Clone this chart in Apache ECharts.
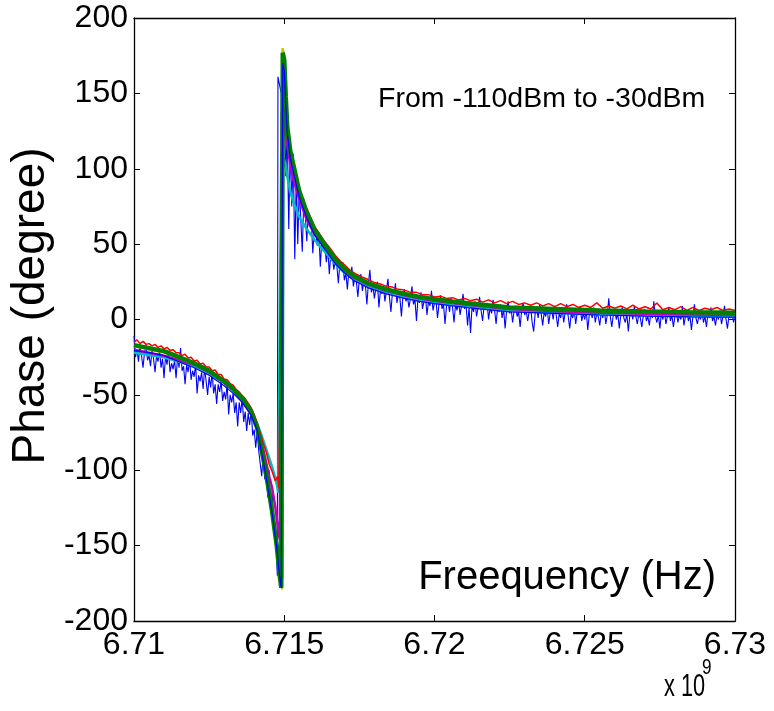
<!DOCTYPE html>
<html>
<head>
<meta charset="utf-8">
<script src="https://cdn.jsdelivr.net/npm/echarts@6/dist/echarts.min.js"></script>
<style>html,body{margin:0;padding:0;background:#fff}#c{width:774px;height:711px}</style>
</head>
<body>
<div id="c"></div>
<script>
// Tick values (x in units of 1e9 Hz)
const xTicks = [6.71, 6.715, 6.72, 6.725, 6.73];
const yTicks = [-200, -150, -100, -50, 0, 50, 100, 150, 200];

// [frequency (x1e9 Hz), phase (degree)]
const blue110 = [[6.71000,-11],[6.71005,-25],[6.71010,-20],[6.71015,-28],[6.71020,-17],[6.71025,-24],[6.71030,-32],[6.71035,-22],[6.71040,-17],[6.71045,-27],[6.71050,-24],[6.71055,-31],[6.71060,-20],[6.71065,-26],[6.71070,-35],[6.71075,-24],[6.71080,-28],[6.71085,-20],[6.71090,-32],[6.71095,-26],[6.71100,-39],[6.71105,-24],[6.71110,-30],[6.71115,-21],[6.71120,-35],[6.71125,-29],[6.71130,-33],[6.71135,-27],[6.71140,-39],[6.71145,-25],[6.71150,-32],[6.71155,-19],[6.71160,-34],[6.71165,-31],[6.71170,-43],[6.71175,-30],[6.71180,-35],[6.71185,-26],[6.71190,-40],[6.71195,-34],[6.71200,-38],[6.71205,-30],[6.71210,-49],[6.71215,-37],[6.71220,-41],[6.71225,-35],[6.71230,-46],[6.71235,-32],[6.71240,-41],[6.71245,-50],[6.71250,-38],[6.71255,-45],[6.71260,-35],[6.71265,-49],[6.71270,-43],[6.71275,-56],[6.71280,-43],[6.71285,-48],[6.71290,-41],[6.71295,-54],[6.71300,-48],[6.71305,-53],[6.71310,-43],[6.71315,-63],[6.71320,-50],[6.71325,-55],[6.71330,-49],[6.71335,-62],[6.71340,-55],[6.71345,-71],[6.71350,-55],[6.71355,-62],[6.71360,-52],[6.71365,-68],[6.71370,-61],[6.71375,-74],[6.71380,-62],[6.71385,-70],[6.71390,-60],[6.71395,-77],[6.71400,-73],[6.71405,-85],[6.71410,-74],[6.71415,-87],[6.71420,-87],[6.71425,-104],[6.71430,-89],[6.71435,-106],[6.71440,-98],[6.71445,-118],[6.7145,-100],[6.71455,-128],[6.7146,-112],[6.71465,-140],[6.7147,-136],[6.71473,-150],[6.71477,-170],[6.71479,161],[6.71490,150],[6.71495,-172],[6.71498,145],[6.71502,128],[6.71505,95],[6.7151,125],[6.71515,60],[6.7152,118],[6.71525,75],[6.7153,110],[6.71535,40],[6.7154,95],[6.71545,50],[6.7155,88],[6.71560,45],[6.71565,80],[6.71570,70],[6.71575,52],[6.71580,71],[6.71585,62],[6.71590,66],[6.71595,44],[6.71600,60],[6.71605,57],[6.71610,49],[6.71615,58],[6.71620,35],[6.71625,53],[6.71630,47],[6.71635,50],[6.71640,38],[6.71645,47],[6.71650,30],[6.71655,44],[6.71660,42],[6.71665,33],[6.71670,40],[6.71675,36],[6.71680,24],[6.71685,37],[6.71690,33],[6.71695,38],[6.71700,26],[6.71705,31],[6.71710,20],[6.71715,32],[6.71720,29],[6.71725,35],[6.71730,22],[6.71735,28],[6.71740,25],[6.71745,15],[6.71750,27],[6.71755,30],[6.71760,19],[6.71765,25],[6.71770,23],[6.71775,10],[6.71780,24],[6.71785,33],[6.71790,18],[6.71795,22],[6.71800,14],[6.71805,21],[6.71810,25],[6.71815,8],[6.71820,19],[6.71825,17],[6.71830,22],[6.71835,12],[6.71840,19],[6.71845,27],[6.71850,15],[6.71855,5],[6.71860,18],[6.71865,16],[6.71870,24],[6.71875,11],[6.71880,17],[6.71885,14],[6.71890,2],[6.71895,16],[6.71900,20],[6.71905,12],[6.71910,15],[6.71915,8],[6.71920,14],[6.71925,22],[6.71930,10],[6.71935,13],[6.71940,-1],[6.71945,14],[6.71950,11],[6.71955,18],[6.71960,7],[6.71965,12],[6.71970,15],[6.71975,3],[6.71980,12],[6.71985,9],[6.71990,19],[6.71995,6],[6.72000,11],[6.72005,13],[6.72010,1],[6.72015,10],[6.72020,16],[6.72025,7],[6.72030,10],[6.72035,-3],[6.72040,9],[6.72045,12],[6.72050,5],[6.72055,14],[6.72060,8],[6.72065,-2],[6.72070,10],[6.72075,6],[6.72080,13],[6.72085,3],[6.72090,9],[6.72095,17],[6.72100,7],[6.72105,10],[6.72110,-4],[6.72115,8],[6.72120,-9],[6.72125,9],[6.72130,5],[6.72135,12],[6.72140,2],[6.72145,8],[6.72150,15],[6.72155,6],[6.72160,-1],[6.72165,9],[6.72170,7],[6.72175,11],[6.72180,0],[6.72185,8],[6.72190,4],[6.72195,13],[6.72200,6],[6.72205,-3],[6.72210,8],[6.72215,5],[6.72220,10],[6.72225,1],[6.72230,7],[6.72235,-6],[6.72240,6],[6.72245,12],[6.72250,4],[6.72255,7],[6.72260,-2],[6.72265,6],[6.72270,9],[6.72275,2],[6.72280,5],[6.72285,-5],[6.72290,6],[6.72295,11],[6.72300,3],[6.72305,6],[6.72310,-1],[6.72315,5],[6.72320,8],[6.72325,-2],[6.72330,-8],[6.72335,4],[6.72340,7],[6.72345,1],[6.72350,10],[6.72355,4],[6.72360,-4],[6.72365,5],[6.72370,2],[6.72375,8],[6.72380,-3],[6.72385,4],[6.72390,6],[6.72395,0],[6.72400,9],[6.72405,3],[6.72410,-5],[6.72415,4],[6.72420,1],[6.72425,7],[6.72430,-2],[6.72435,5],[6.72440,10],[6.72445,2],[6.72450,-6],[6.72455,4],[6.72460,1],[6.72465,6],[6.72470,-3],[6.72475,5],[6.72480,3],[6.72485,9],[6.72490,-1],[6.72495,4],[6.72500,0],[6.72505,6],[6.72510,-7],[6.72515,3],[6.72520,5],[6.72525,1],[6.72530,8],[6.72535,-2],[6.72540,4],[6.72545,2],[6.72550,-4],[6.72555,5],[6.72560,1],[6.72565,7],[6.72570,-3],[6.72575,3],[6.72580,14],[6.72585,2],[6.72590,-5],[6.72595,3],[6.72600,6],[6.72605,0],[6.72610,4],[6.72615,-6],[6.72620,3],[6.72625,8],[6.72630,1],[6.72635,-2],[6.72640,4],[6.72645,-8],[6.72650,3],[6.72655,6],[6.72660,0],[6.72665,9],[6.72670,2],[6.72675,-3],[6.72680,4],[6.72685,1],[6.72690,-5],[6.72695,3],[6.72700,7],[6.72705,-1],[6.72710,2],[6.72715,-4],[6.72720,5],[6.72725,1],[6.72730,12],[6.72735,2],[6.72740,-2],[6.72745,3],[6.72750,-6],[6.72755,4],[6.72760,0],[6.72765,6],[6.72770,-3],[6.72775,2],[6.72780,8],[6.72785,-1],[6.72790,3],[6.72795,-5],[6.72800,2],[6.72805,5],[6.72810,-2],[6.72815,3],[6.72820,0],[6.72825,9],[6.72830,-4],[6.72835,2],[6.72840,5],[6.72845,-1],[6.72850,3],[6.72855,-7],[6.72860,2],[6.72865,10],[6.72870,1],[6.72875,-3],[6.72880,3],[6.72885,0],[6.72890,6],[6.72895,-2],[6.72900,2],[6.72905,-5],[6.72910,4],[6.72915,1],[6.72920,8],[6.72925,-1],[6.72930,2],[6.72935,-4],[6.72940,3],[6.72945,0],[6.72950,6],[6.72955,-3],[6.72960,2],[6.72965,9],[6.72970,0],[6.72975,-6],[6.72980,3],[6.72985,1],[6.72990,5],[6.72995,-2],[6.73000,3]];

const cyanLine = [[6.7100,-22],[6.7110,-25],[6.7120,-31],[6.7125,-36],[6.7130,-42],[6.7133,-47],[6.7136,-53],[6.7139,-61],[6.7141,-69],[6.7143,-80],[6.7145,-92],[6.7146,-98],[6.7147,-105],[6.71478,-112],[6.7148,-115],[6.7149,110],[6.7150,106],[6.7151,95],[6.7152,85],[6.7153,78],[6.7155,68],[6.71575,60],[6.7160,53],[6.7163,46],[6.7167,37],[6.7170,31],[6.7173,27],[6.7178,22],[6.7184,18],[6.7190,15],[6.7195,13],[6.7200,11.5],[6.7206,10],[6.7215,8],[6.7225,6],[6.7240,4.5],[6.7255,3.5],[6.7270,2.8],[6.7285,2.3],[6.7300,2]];

const magentaLine = [[6.7100,-20],[6.7110,-24],[6.7120,-30],[6.7125,-35],[6.7130,-42],[6.7133,-47],[6.7136,-54],[6.7139,-63],[6.7141,-72],[6.7143,-86],[6.7145,-104],[6.7146,-112],[6.7147,-124],[6.71475,-132],[6.7148,-140],[6.71485,-146],[6.71492,138],[6.7150,130],[6.7151,117],[6.7152,103],[6.7153,93],[6.7155,80],[6.71575,66],[6.7160,57],[6.7163,49],[6.7167,39],[6.7170,32.5],[6.7173,28],[6.7178,23],[6.7184,19],[6.7190,16],[6.7195,14],[6.7200,12.5],[6.7206,11],[6.7215,9],[6.7225,7],[6.7240,5.5],[6.7255,4.5],[6.7270,3.8],[6.7285,3.3],[6.7300,3]];

const redLine = [[6.7100,-15],[6.7101,-13.5],[6.7102,-16],[6.7103,-14.5],[6.7104,-16.5],[6.7105,-16],[6.7106,-17.5],[6.7107,-16.5],[6.7108,-18.5],[6.7109,-17.5],[6.7110,-19.5],[6.7111,-18.5],[6.7112,-20.5],[6.7113,-20],[6.7114,-22],[6.7115,-22],[6.7116,-24],[6.7117,-23],[6.7118,-25.5],[6.7119,-25],[6.7120,-27.5],[6.7121,-27],[6.7122,-29.5],[6.7123,-29],[6.7124,-31.5],[6.7125,-31.5],[6.7126,-34],[6.7127,-33.5],[6.7128,-36.5],[6.7129,-36.5],[6.7130,-39.5],[6.7131,-40],[6.7132,-42.5],[6.7133,-43.5],[6.7134,-46.5],[6.7135,-48],[6.7136,-50.5],[6.7137,-52.5],[6.7138,-55.5],[6.7139,-58.5],[6.7140,-63],[6.7141,-68.5],[6.7142,-75],[6.7143,-82],[6.7144,-88],[6.7145,-96],[6.7146,-101],[6.7147,-107],[6.71478,-104],[6.71482,-112],[6.71495,150],[6.7150,140],[6.7151,122],[6.7152,110],[6.7153,102],[6.7155,87],[6.7157,76],[6.7160,62],[6.7163,53],[6.7165,48],[6.7167,42.5],[6.7169,38],[6.7170,36.5],[6.7172,32.5],[6.7174,30],[6.7176,28],[6.7178,26.5],[6.7180,24.5],[6.7182,23.5],[6.7184,22],[6.7186,21.5],[6.7188,20],[6.7190,19.5],[6.7192,18],[6.7194,18],[6.7196,16.5],[6.7198,16.5],[6.7200,15],[6.7202,15.5],[6.7204,14],[6.7206,14.5],[6.7208,13],[6.7210,14],[6.7212,12.5],[6.7214,13.5],[6.7216,11.5],[6.7218,13],[6.7220,11],[6.7222,12.5],[6.7224,10.5],[6.7226,12],[6.7228,10],[6.7230,11],[6.7232,9.5],[6.7234,11],[6.7236,9],[6.7238,10.5],[6.7240,8.5],[6.7242,10.5],[6.7244,8.5],[6.7246,10],[6.7248,8],[6.7250,9.5],[6.7252,8],[6.7254,11],[6.7256,7.5],[6.7258,9],[6.7260,7.5],[6.7262,9],[6.7264,7],[6.7266,9.5],[6.7268,7],[6.7270,8.5],[6.7272,7],[6.7274,11],[6.7276,6.5],[6.7278,8],[6.7280,6.5],[6.7282,8.5],[6.7284,6],[6.7286,8],[6.7288,6],[6.7290,7.5],[6.7292,6.5],[6.7294,8],[6.7296,6],[6.7298,7],[6.7300,6]];

const yellowLine = [[6.7100,-18],[6.7110,-22],[6.7120,-29.5],[6.7125,-34.5],[6.7130,-41.5],[6.7133,-46.5],[6.7136,-52.5],[6.7139,-61.5],[6.7141,-72],[6.7142,-82],[6.7143,-92],[6.7144,-103],[6.7145,-114],[6.7146,-126],[6.71475,-147],[6.71485,-168],[6.71490,-177],[6.71493,-179],[6.71494,180],[6.71499,177],[6.71505,147],[6.71510,127],[6.71520,111],[6.71530,102],[6.71550,84],[6.71575,70],[6.7160,59],[6.7163,50],[6.7167,39.5],[6.7170,33.5],[6.7173,28.5],[6.7178,23.5],[6.7184,19.5],[6.7190,16.5],[6.7195,14.5],[6.7200,13],[6.7206,11.5],[6.7215,9.5],[6.7225,7.5],[6.7240,6.5],[6.7255,5.5],[6.7270,4.8],[6.7285,4.3],[6.7300,4]];

const greenLine = [[6.7100,-17],[6.7105,-19],[6.7110,-21],[6.7115,-25],[6.7120,-29],[6.7125,-34],[6.7130,-41],[6.7133,-46],[6.7136,-52],[6.7139,-61],[6.7141,-72],[6.7142,-82],[6.7143,-92],[6.7144,-103],[6.7145,-115],[6.7146,-128],[6.71475,-150],[6.71485,-170],[6.71490,-178],[6.71493,-179],[6.71495,177],[6.71500,172],[6.71505,148],[6.71510,128],[6.71520,112],[6.71530,103],[6.71550,85],[6.71575,71],[6.7160,60],[6.7163,51],[6.7167,40],[6.7170,34],[6.7173,29],[6.7178,24],[6.7184,20],[6.7190,17],[6.7195,15],[6.7200,13.5],[6.7206,12],[6.7215,10],[6.7225,8],[6.7240,7],[6.7255,6],[6.7270,5.3],[6.7285,4.8],[6.7300,4.5]];

const blueSmooth = [[6.7100,-20.5],[6.7105,-22],[6.7110,-24],[6.7115,-28],[6.7120,-32],[6.7125,-37],[6.7130,-44],[6.7133,-49],[6.7136,-55],[6.7139,-63.5],[6.7141,-73.5],[6.7142,-83.5],[6.7143,-93.5],[6.7144,-104.5],[6.7145,-116.5],[6.7146,-129],[6.71475,-151],[6.71485,-171],[6.71490,-178],[6.71493,-179],[6.71495,170],[6.71500,165],[6.71505,142],[6.71510,124],[6.71520,107],[6.71530,98],[6.71550,81],[6.71575,67.5],[6.7160,56.5],[6.7163,48],[6.7167,37],[6.7170,31],[6.7173,26],[6.7178,21],[6.7184,17],[6.7190,14],[6.7195,12],[6.7200,10.5],[6.7206,9],[6.7215,7],[6.7225,5],[6.7240,4],[6.7255,3],[6.7270,2.3],[6.7285,1.8],[6.7300,1.5]];

const FONT = "'Liberation Sans', Arial, Helvetica, sans-serif";
const chart = echarts.init(document.getElementById('c'), null, {renderer: 'canvas'});

function mkLine(data, color, width) {
  return {type: 'line', data: data, showSymbol: false, symbol: 'none', animation: false,
    lineStyle: {color: color, width: width}, clip: true, silent: true};
}
const fmtX = v => String(+(+v).toFixed(3));

const axisCommon = {
  axisLine: {show: true, onZero: false, lineStyle: {color: '#000', width: 1.3}},
  axisTick: {show: true, inside: true, length: 6, lineStyle: {color: '#000', width: 1}},
  splitLine: {show: false}
};

chart.setOption({
  backgroundColor: '#fff',
  animation: false,
  grid: {left: 134, top: 18, width: 601, height: 603, containLabel: false},
  xAxis: [
    Object.assign({type: 'value', min: xTicks[0], max: xTicks[xTicks.length-1], interval: 0.005,
      position: 'bottom',
      axisLabel: {show: true, showMinLabel: true, showMaxLabel: true, color: '#000', fontSize: 32, fontFamily: FONT, margin: 8, formatter: fmtX}
    }, axisCommon),
    Object.assign({type: 'value', min: xTicks[0], max: xTicks[xTicks.length-1], interval: 0.005,
      position: 'top', axisLabel: {show: false}}, axisCommon)
  ],
  yAxis: [
    Object.assign({type: 'value', min: yTicks[0], max: yTicks[yTicks.length-1], interval: 50,
      position: 'left',
      axisLabel: {show: true, showMinLabel: true, showMaxLabel: true, color: '#000', fontSize: 32, fontFamily: FONT, margin: 6}
    }, axisCommon),
    Object.assign({type: 'value', min: yTicks[0], max: yTicks[yTicks.length-1], interval: 50,
      position: 'right', axisLabel: {show: false}}, axisCommon)
  ],
  graphic: [
    {type: 'text', x: 31, y: 306, rotation: Math.PI / 2,
      style: {text: 'Phase (degree)', fill: '#000', font: "46px " + FONT, align: 'center', verticalAlign: 'middle'}},
    {type: 'text', left: 378, top: 85, style: {text: 'From -110dBm to -30dBm', fill: '#000', font: "28.5px " + FONT}},
    {type: 'text', right: 58, top: 558, style: {text: 'Freequency (Hz)', fill: '#000', font: "40px " + FONT}},
    {type: 'text', x: 664, y: 671, scaleX: 0.68, style: {text: 'x 10', fill: '#000', font: "32px " + FONT}},
    {type: 'text', x: 702, y: 657, scaleX: 0.78, style: {text: '9', fill: '#000', font: "22px " + FONT}}
  ],
  series: [
    mkLine(blue110, '#0000ff', 1.1),
    mkLine(cyanLine, '#00bfbf', 2.5),
    mkLine(magentaLine, '#bf00bf', 2.5),
    mkLine(redLine, '#ff0000', 1.5),
    mkLine(yellowLine, '#bfbf00', 2),
    mkLine(greenLine, '#008000', 4.5),
    mkLine(blueSmooth, '#0000ff', 1.2)
  ]
});
</script>
</body>
</html>
